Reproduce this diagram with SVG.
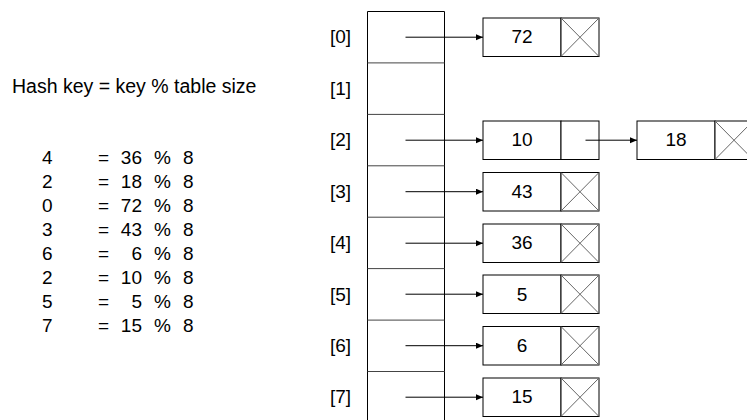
<svg xmlns="http://www.w3.org/2000/svg" width="747" height="420" viewBox="0 0 747 420">
<style>
text{font-family:"Liberation Sans",Arial,sans-serif;font-size:19px;fill:#000}
.c{text-anchor:middle}
.e{text-anchor:end}
.box{fill:#fff;stroke:#000;stroke-width:1}
.x{stroke:#666;stroke-width:1}
.tbl{fill:none;stroke:#000;stroke-width:1}
.div{stroke:#444;stroke-width:1}
.con{stroke:#000;stroke-width:1;fill:none;marker-end:url(#ah)}
</style>
<defs>
<marker id="ah" markerUnits="userSpaceOnUse" markerWidth="8" markerHeight="7" refX="7" refY="3" orient="auto">
<path d="M0,0 L7,3 L0,6 z" fill="#000"/>
</marker>
</defs>
<rect width="747" height="420" fill="#fff"/>

<g id="formula">
<text x="12" y="93" style="font-size:19.5px">Hash key = key % table size</text>
</g>

<g id="hash-list">
<text x="42" y="164">4</text><text x="98" y="164">=</text><text class="e" x="142" y="164">36</text><text x="154" y="164">%</text><text x="183" y="164">8</text>
<text x="42" y="188">2</text><text x="98" y="188">=</text><text class="e" x="142" y="188">18</text><text x="154" y="188">%</text><text x="183" y="188">8</text>
<text x="42" y="212">0</text><text x="98" y="212">=</text><text class="e" x="142" y="212">72</text><text x="154" y="212">%</text><text x="183" y="212">8</text>
<text x="42" y="236">3</text><text x="98" y="236">=</text><text class="e" x="142" y="236">43</text><text x="154" y="236">%</text><text x="183" y="236">8</text>
<text x="42" y="260">6</text><text x="98" y="260">=</text><text class="e" x="142" y="260">6</text><text x="154" y="260">%</text><text x="183" y="260">8</text>
<text x="42" y="284">2</text><text x="98" y="284">=</text><text class="e" x="142" y="284">10</text><text x="154" y="284">%</text><text x="183" y="284">8</text>
<text x="42" y="308">5</text><text x="98" y="308">=</text><text class="e" x="142" y="308">5</text><text x="154" y="308">%</text><text x="183" y="308">8</text>
<text x="42" y="332">7</text><text x="98" y="332">=</text><text class="e" x="142" y="332">15</text><text x="154" y="332">%</text><text x="183" y="332">8</text>
</g>

<g id="table">
<path class="tbl" d="M367.5,425 V11.5 H444.5 V425"/>
<line class="div" x1="367.5" y1="62.9" x2="444.5" y2="62.9"/>
<line class="div" x1="367.5" y1="114.4" x2="444.5" y2="114.4"/>
<line class="div" x1="367.5" y1="165.8" x2="444.5" y2="165.8"/>
<line class="div" x1="367.5" y1="217.2" x2="444.5" y2="217.2"/>
<line class="div" x1="367.5" y1="268.6" x2="444.5" y2="268.6"/>
<line class="div" x1="367.5" y1="320.1" x2="444.5" y2="320.1"/>
<line class="div" x1="367.5" y1="371.5" x2="444.5" y2="371.5"/>
<text x="330" y="43">[0]</text>
<text x="330" y="94.5">[1]</text>
<text x="330" y="146">[2]</text>
<text x="330" y="197.5">[3]</text>
<text x="330" y="249">[4]</text>
<text x="330" y="300.5">[5]</text>
<text x="330" y="352">[6]</text>
<text x="330" y="403">[7]</text>
</g>

<g id="node-72">
<rect class="box" x="483" y="18" width="78" height="38.5"/>
<rect class="box" x="561" y="18" width="38" height="38.5"/>
<line class="x" x1="561" y1="18" x2="599" y2="56.5"/><line class="x" x1="599" y1="18" x2="561" y2="56.5"/>
<text class="c" x="522" y="43">72</text>
</g>
<g id="node-10">
<rect class="box" x="483" y="121" width="78" height="38.5"/>
<rect class="box" x="561" y="121" width="38" height="38.5"/>
<text class="c" x="522" y="146">10</text>
</g>
<g id="node-18">
<rect class="box" x="637" y="121" width="78" height="38.5"/>
<rect class="box" x="715" y="121" width="38" height="38.5"/>
<line class="x" x1="715" y1="121" x2="753" y2="159.5"/><line class="x" x1="753" y1="121" x2="715" y2="159.5"/>
<text class="c" x="676" y="146">18</text>
</g>
<g id="node-43">
<rect class="box" x="483" y="172.5" width="78" height="38.5"/>
<rect class="box" x="561" y="172.5" width="38" height="38.5"/>
<line class="x" x1="561" y1="172.5" x2="599" y2="211"/><line class="x" x1="599" y1="172.5" x2="561" y2="211"/>
<text class="c" x="522" y="197.5">43</text>
</g>
<g id="node-36">
<rect class="box" x="483" y="224" width="78" height="38.5"/>
<rect class="box" x="561" y="224" width="38" height="38.5"/>
<line class="x" x1="561" y1="224" x2="599" y2="262.5"/><line class="x" x1="599" y1="224" x2="561" y2="262.5"/>
<text class="c" x="522" y="249">36</text>
</g>
<g id="node-5">
<rect class="box" x="483" y="275" width="78" height="38.5"/>
<rect class="box" x="561" y="275" width="38" height="38.5"/>
<line class="x" x1="561" y1="275" x2="599" y2="313.5"/><line class="x" x1="599" y1="275" x2="561" y2="313.5"/>
<text class="c" x="522" y="300.5">5</text>
</g>
<g id="node-6">
<rect class="box" x="483" y="326.5" width="78" height="38.5"/>
<rect class="box" x="561" y="326.5" width="38" height="38.5"/>
<line class="x" x1="561" y1="326.5" x2="599" y2="365"/><line class="x" x1="599" y1="326.5" x2="561" y2="365"/>
<text class="c" x="522" y="352">6</text>
</g>
<g id="node-15">
<rect class="box" x="483" y="378" width="78" height="38.5"/>
<rect class="box" x="561" y="378" width="38" height="38.5"/>
<line class="x" x1="561" y1="378" x2="599" y2="416.5"/><line class="x" x1="599" y1="378" x2="561" y2="416.5"/>
<text class="c" x="522" y="403">15</text>
</g>

<g id="connectors">
<line class="con" x1="405.5" y1="37.2" x2="483" y2="37.2"/>
<line class="con" x1="405.5" y1="140.2" x2="483" y2="140.2"/>
<line class="con" x1="585.5" y1="140.2" x2="637" y2="140.2"/>
<line class="con" x1="405.5" y1="191.7" x2="483" y2="191.7"/>
<line class="con" x1="405.5" y1="243.2" x2="483" y2="243.2"/>
<line class="con" x1="405.5" y1="294.2" x2="483" y2="294.2"/>
<line class="con" x1="405.5" y1="345.7" x2="483" y2="345.7"/>
<line class="con" x1="405.5" y1="397.2" x2="483" y2="397.2"/>
</g>
</svg>
